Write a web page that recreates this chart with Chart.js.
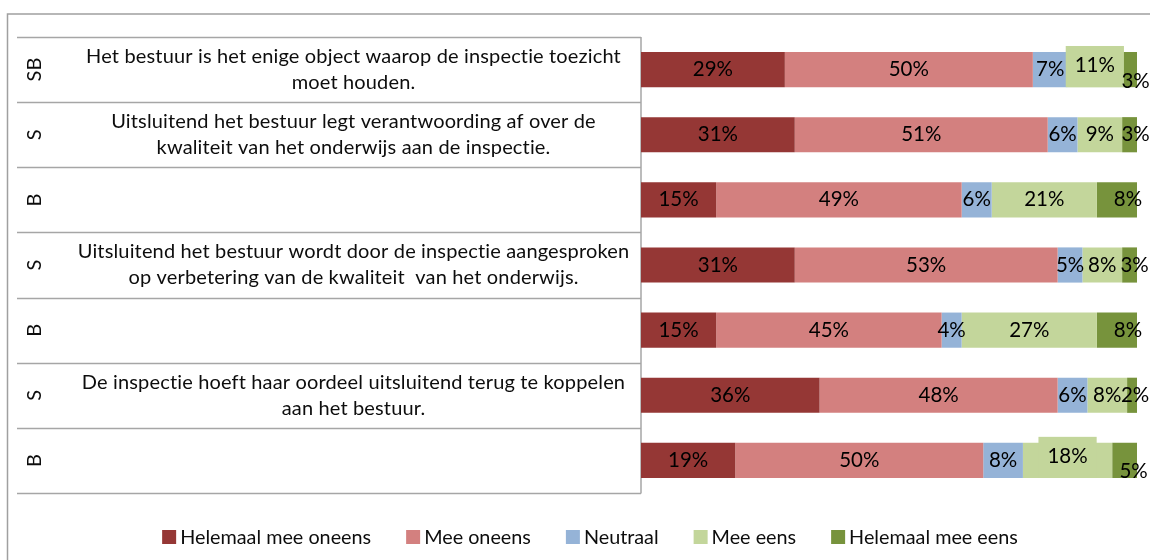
<!DOCTYPE html>
<html>
<head>
<meta charset="utf-8">
<script src="https://cdn.jsdelivr.net/npm/chart.js@4.4.1/dist/chart.umd.min.js"></script>
<style>
  html, body { margin: 0; padding: 0; background: #ffffff; }
  #wrap { width: 1150px; height: 560px; position: relative; }
</style>
</head>
<body>
<div id="wrap"><canvas id="c" width="1150" height="560"></canvas></div>
<script>
// ---- data ----
const categories = ['SB', 'S', 'B', 'S', 'B', 'S', 'B'];
const statements = [
  ['Het bestuur is het enige object waarop de inspectie toezicht', 'moet houden.'],
  ['Uitsluitend het bestuur legt verantwoording af over de', 'kwaliteit van het onderwijs aan de inspectie.'],
  [],
  ['Uitsluitend het bestuur wordt door de inspectie aangesproken', 'op verbetering van de kwaliteit  van het onderwijs.'],
  [],
  ['De inspectie hoeft haar oordeel uitsluitend terug te koppelen', 'aan het bestuur.'],
  []
];
const seriesNames = ['Helemaal mee oneens', 'Mee oneens', 'Neutraal', 'Mee eens', 'Helemaal mee eens'];
const helemaalMeeOneens = [29, 31, 15, 31, 15, 36, 19];
const meeOneens = [50, 51, 49, 53, 45, 48, 50];
const neutraal = [7, 6, 6, 5, 4, 6, 8];
const meeEens = [11, 9, 21, 8, 27, 8, 18];
const helemaalMeeEens = [3, 3, 8, 3, 8, 2, 5];

// ---- styling ----
const colors = ['#953735', '#D3807F', '#95B3D7', '#C3D69B', '#77933C'];
const FONT = 'Lato, "Open Sans", sans-serif';
// label nudges (series index -> row index -> {dx, dy, box})
const labelNudge = {
  3: { 0: { dy: -4, box: true }, 6: { dy: -4, box: true } },
  4: { 0: { dx: 6, dy: 12 }, 1: { dx: 6 }, 2: { dx: 11 }, 3: { dx: 5 }, 4: { dx: 11 }, 5: { dx: 3 }, 6: { dx: 9, dy: 11 } }
};

const series = [helemaalMeeOneens, meeOneens, neutraal, meeEens, helemaalMeeEens];
const rowTotals = categories.map((_, i) => series.reduce((s, arr) => s + arr[i], 0));

const datasets = series.map((arr, k) => ({
  label: seriesNames[k],
  data: arr.map((v, i) => v / rowTotals[i] * 100),
  raw: arr,
  backgroundColor: colors[k],
  borderWidth: 0,
  barPercentage: 0.54,
  categoryPercentage: 1.0
}));

function setSpacing(ctx, v) { if ('letterSpacing' in ctx) ctx.letterSpacing = v; }

const decorPlugin = {
  id: 'decor',
  beforeDraw(chart) {
    const ctx = chart.ctx;
    const area = chart.chartArea;
    const yScale = chart.scales.y;
    ctx.save();
    ctx.fillStyle = '#ffffff';
    ctx.fillRect(0, 0, chart.width, chart.height);
    // outer border
    ctx.strokeStyle = '#a0a0a0';
    ctx.lineWidth = 1.5;
    ctx.strokeRect(7.5, 14, 1160, 600);
    // table
    const tableLeft = 17;
    const tableRight = area.left;
    const n = categories.length;
    const rowH = (area.bottom - area.top) / n;
    ctx.strokeStyle = '#a6a6a6';
    ctx.lineWidth = 1.5;
    ctx.beginPath();
    for (let i = 0; i <= n; i++) {
      const y = Math.round(area.top + i * rowH) + 0.5;
      ctx.moveTo(tableLeft, y);
      ctx.lineTo(tableRight, y);
    }
    ctx.moveTo(tableRight, area.top);
    ctx.lineTo(tableRight, area.bottom + 0.5);
    ctx.stroke();
    // row texts
    ctx.fillStyle = '#0d0d0d';
    ctx.textBaseline = 'middle';
    ctx.textAlign = 'center';
    setSpacing(ctx, '0.15px');
    for (let i = 0; i < n; i++) {
      const yc = yScale.getPixelForValue(i);
      // rotated code
      ctx.save();
      ctx.translate(35, yc);
      ctx.rotate(-Math.PI / 2);
      ctx.font = '20px ' + FONT;
      ctx.fillText(categories[i], 0, 0);
      ctx.restore();
      const lines = statements[i];
      ctx.font = '20px ' + FONT;
      const cx = (66 + tableRight) / 2;
      lines.forEach((t, j) => {
        const off = (j - (lines.length - 1) / 2) * 26;
        ctx.fillText(t, cx, yc + off);
      });
    }
    ctx.restore();
  },
  afterDatasetsDraw(chart) {
    const ctx = chart.ctx;
    ctx.save();
    ctx.font = '20.5px ' + FONT;
    ctx.textAlign = 'center';
    ctx.textBaseline = 'middle';
    chart.data.datasets.forEach((ds, k) => {
      const meta = chart.getDatasetMeta(k);
      meta.data.forEach((bar, i) => {
        const txt = ds.raw[i] + '%';
        const nud = (labelNudge[k] && labelNudge[k][i]) || {};
        const x = (bar.base + bar.x) / 2 + (nud.dx || 0);
        const y = bar.y + (nud.dy || 0);
        if (nud.box) {
          const w = ctx.measureText(txt).width + 18;
          const top = bar.y - bar.height / 2 - 6;
          ctx.fillStyle = ds.backgroundColor;
          ctx.fillRect(x - w / 2, top, w, bar.y + bar.height / 2 - top);
        }
        ctx.fillStyle = '#000000';
        ctx.fillText(txt, x, y);
      });
    });
    ctx.restore();
  },
  afterDraw(chart) {
    // legend
    const ctx = chart.ctx;
    ctx.save();
    ctx.font = '19.8px ' + FONT;
    ctx.textBaseline = 'middle';
    ctx.textAlign = 'left';
    const box = 14, gapBox = 4, gapItem = 35;
    const items = chart.data.datasets.map(ds => ({ label: ds.label, color: ds.backgroundColor, w: ctx.measureText(ds.label).width }));
    const total = items.reduce((s, it) => s + box + gapBox + it.w, 0) + gapItem * (items.length - 1);
    let x = 590 - total / 2;
    const y = 537;
    items.forEach(it => {
      ctx.fillStyle = it.color;
      ctx.fillRect(x, y - box / 2, box, box);
      ctx.fillStyle = '#0d0d0d';
      ctx.fillText(it.label, x + box + gapBox, y + 1);
      x += box + gapBox + it.w + gapItem;
    });
    ctx.restore();
  }
};

new Chart(document.getElementById('c'), {
  type: 'bar',
  data: { labels: categories, datasets },
  options: {
    indexAxis: 'y',
    responsive: false,
    animation: false,
    layout: { padding: { left: 641, right: 13, top: 37, bottom: 67 } },
    plugins: { legend: { display: false }, tooltip: { enabled: false } },
    scales: {
      x: { stacked: true, min: 0, max: 100, display: false },
      y: { stacked: true, display: false }
    }
  },
  plugins: [decorPlugin]
});
</script>
</body>
</html>
